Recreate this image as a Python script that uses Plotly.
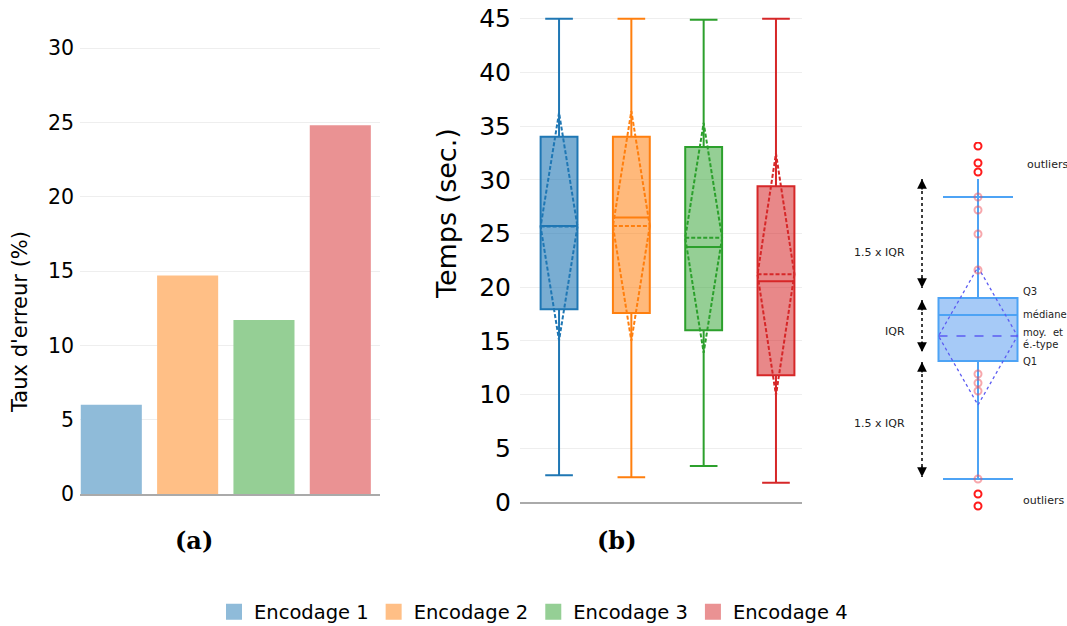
import plotly.graph_objects as go

W, H = 1067, 626

# ---------------- data ----------------
encodings = ["Encodage 1", "Encodage 2", "Encodage 3", "Encodage 4"]
positions = [0, 1, 2, 3]
error_rates = [6.0, 14.7, 11.7, 24.8]

bar_colors = ["#8fbbd9", "#ffbf86", "#95cf95", "#ea9293"]
line_colors = ["#1f77b4", "#ff7f0e", "#2ca02c", "#d62728"]
box_fills = ["rgba(31,119,180,0.6)", "rgba(255,127,14,0.55)",
             "rgba(44,160,44,0.5)", "rgba(214,39,40,0.55)"]

time_q1 = [17.95, 17.6, 16.0, 11.8]
time_median = [25.7, 26.5, 23.75, 20.55]
time_q3 = [34.0, 34.0, 33.05, 29.4]
time_low = [2.5, 2.3, 3.35, 1.8]
time_high = [45.0, 45.0, 44.9, 45.0]
time_mean = [25.65, 25.7, 24.6, 21.2]
time_sd = [10.6, 10.7, 10.7, 11.25]

# explanatory diagram (arbitrary units)
diag_q1 = 15.1
diag_median = 19.7
diag_q3 = 21.4
diag_low = 3.3
diag_high = 31.5
diag_mean = 17.6
diag_sd = 6.9
diag_whisker_top = 33.3
diag_outliers = [36.6, 34.9, 34.0, 1.8, 0.6]
diag_inliers = [31.5, 30.2, 27.8, 24.2, 13.8, 12.9, 12.1, 3.3]
arrow_spans = [(33.3, 22.4), (21.2, 16.0), (15.0, 3.5)]
span_labels = ["1.5 x IQR", "IQR", "1.5 x IQR"]
span_label_y = [25.9, 18.1, 8.9]
right_labels = ["Q3", "médiane", "moy.  et", "é.-type", "Q1"]
right_label_y = [22.1, 19.8, 18.0, 16.8, 15.1]
outlier_labels = ["outliers", "outliers"]
outlier_label_y = [34.7, 1.2]
outlier_label_x = [0.47, 0.43]

FONT = "DejaVu Sans"


def px_x(p):
    return p / W


def px_y(p):
    return 1 - p / H


fig = go.Figure()

# ---------------- (a) bars ----------------
for i, name in enumerate(encodings):
    fig.add_trace(go.Bar(
        x=[positions[i]], y=[error_rates[i]], name=name,
        marker=dict(color=bar_colors[i], line=dict(width=0)),
        width=0.8, xaxis="x", yaxis="y", showlegend=False,
        hoverinfo="y",
    ))
# legend entries (square swatches)
for i, name in enumerate(encodings):
    fig.add_trace(go.Scatter(
        x=[None], y=[None], mode="markers", name=name,
        marker=dict(symbol="square", size=20, color=bar_colors[i]),
        xaxis="x", yaxis="y", showlegend=True,
    ))

# ---------------- (b) boxes ----------------
for i, name in enumerate(encodings):
    fig.add_trace(go.Box(
        x=[positions[i]], q1=[time_q1[i]], median=[time_median[i]],
        q3=[time_q3[i]], lowerfence=[time_low[i]], upperfence=[time_high[i]],
        mean=[time_mean[i]], sd=[time_sd[i]], boxmean="sd",
        name=name, width=0.51, whiskerwidth=0.75,
        fillcolor=box_fills[i], line=dict(color=line_colors[i], width=2),
        xaxis="x2", yaxis="y2", showlegend=False,
    ))

# ---------------- (c) diagram ----------------
diag_blue = "#4da3f5"
diag_dash = "#5c5cf2"
box_w = 0.79
fig.add_trace(go.Box(
    x=[0], q1=[diag_q1], median=[diag_median], q3=[diag_q3],
    lowerfence=[diag_low], upperfence=[diag_high],
    width=box_w, whiskerwidth=0.886, boxpoints=False,
    fillcolor="rgba(77,150,240,0.5)", line=dict(color=diag_blue, width=2),
    xaxis="x3", yaxis="y3", showlegend=False,
))
fig.add_trace(go.Scatter(
    x=[0, 0], y=[diag_high, diag_whisker_top], mode="lines",
    line=dict(color=diag_blue, width=2), xaxis="x3", yaxis="y3",
    showlegend=False, hoverinfo="skip",
))
half = box_w / 2
fig.add_trace(go.Scatter(
    x=[-half, half], y=[diag_mean, diag_mean], mode="lines",
    line=dict(color=diag_dash, width=1.3, dash="dash"),
    xaxis="x3", yaxis="y3", showlegend=False, hoverinfo="skip",
))
fig.add_trace(go.Scatter(
    x=[0, half, 0, -half, 0],
    y=[diag_mean + diag_sd, diag_mean, diag_mean - diag_sd, diag_mean, diag_mean + diag_sd],
    mode="lines", line=dict(color=diag_dash, width=1.3, dash="dot"),
    xaxis="x3", yaxis="y3", showlegend=False, hoverinfo="skip",
))
fig.add_trace(go.Scatter(
    x=[0] * len(diag_inliers), y=diag_inliers, mode="markers",
    marker=dict(symbol="circle-open", size=7, color="rgba(240,80,90,0.5)",
                line=dict(width=2)),
    xaxis="x3", yaxis="y3", showlegend=False, hoverinfo="skip",
))
fig.add_trace(go.Scatter(
    x=[0] * len(diag_outliers), y=diag_outliers, mode="markers",
    marker=dict(symbol="circle-open", size=7, color="#ff1a1a",
                line=dict(width=2)),
    xaxis="x3", yaxis="y3", showlegend=False, hoverinfo="skip",
))
arrow_x = -0.56
for (top, bot) in arrow_spans:
    fig.add_trace(go.Scatter(
        x=[arrow_x, arrow_x], y=[top, bot], mode="lines",
        line=dict(color="black", width=1.5, dash="dot"),
        xaxis="x3", yaxis="y3", showlegend=False, hoverinfo="skip",
    ))

annotations = []
for (top, bot) in arrow_spans:
    for end, start in ((top, top - 1.2), (bot, bot + 1.2)):
        annotations.append(dict(
            x=arrow_x, y=end, ax=arrow_x, ay=start,
            xref="x3", yref="y3", axref="x3", ayref="y3",
            showarrow=True, arrowhead=2, arrowsize=1.3, arrowwidth=1.5,
            arrowcolor="black", text="",
        ))
for lab, yv in zip(span_labels, span_label_y):
    annotations.append(dict(
        x=-0.71, y=yv, xref="x3", yref="y3", text=lab, showarrow=False,
        xanchor="right", yanchor="middle",
        font=dict(family=FONT, size=11, color="#222"),
    ))
for lab, yv in zip(right_labels, right_label_y):
    annotations.append(dict(
        x=0.43, y=yv, xref="x3", yref="y3", text=lab, showarrow=False,
        xanchor="left", yanchor="middle",
        font=dict(family=FONT, size=10, color="#222"),
    ))
for lab, yv, xv in zip(outlier_labels, outlier_label_y, outlier_label_x):
    annotations.append(dict(
        x=xv, y=yv, xref="x3", yref="y3", text=lab, showarrow=False,
        xanchor="left", yanchor="middle",
        font=dict(family=FONT, size=11, color="#222"),
    ))

# panel labels
for lab, xp in (("(a)", 194), ("(b)", 617)):
    annotations.append(dict(
        x=px_x(xp), y=px_y(540), xref="paper", yref="paper",
        xanchor="center", yanchor="middle",
        text="<b>" + lab + "</b>", showarrow=False,
        font=dict(family="DejaVu Serif", size=24, color="black"),
    ))

# axis titles as rotated annotations
annotations.append(dict(
    x=px_x(20), y=px_y(322), xref="paper", yref="paper",
    xanchor="center", yanchor="middle",
    text="Taux d'erreur (%)", textangle=-90, showarrow=False,
    font=dict(family=FONT, size=21, color="black"),
))
annotations.append(dict(
    x=px_x(446), y=px_y(214), xref="paper", yref="paper",
    xanchor="center", yanchor="middle",
    text="Temps (sec.)", textangle=-90, showarrow=False,
    font=dict(family=FONT, size=27, color="black"),
))

fig.update_layout(
    width=W, height=H, autosize=False,
    margin=dict(l=0, r=0, t=0, b=0, autoexpand=False),
    paper_bgcolor="white", plot_bgcolor="white",
    font=dict(family=FONT, color="black"),
    bargap=0.2,
    xaxis=dict(domain=[px_x(80), px_x(380)], range=[-0.41, 3.52], automargin=False,
               showticklabels=False, ticks="", showgrid=False, zeroline=False,
               showline=True, linecolor="#aaaaaa", linewidth=2),
    yaxis=dict(domain=[px_y(494), px_y(25.7)], range=[0, 31.5], automargin=False,
               tickvals=[0, 5, 10, 15, 20, 25, 30], ticks="",
               tickfont=dict(size=20.5), ticklabelstandoff=5,
               showgrid=True, gridcolor="#eeeeee", zeroline=False),
    xaxis2=dict(domain=[px_x(520), px_x(802)], range=[-0.54, 3.36], automargin=False,
                anchor="y2", showticklabels=False, ticks="", showgrid=False,
                zeroline=False, showline=True, linecolor="#aaaaaa", linewidth=2),
    yaxis2=dict(domain=[px_y(502), px_y(8)], range=[0, 46], anchor="x2", automargin=False,
                tickvals=list(range(0, 50, 5)), ticks="",
                tickfont=dict(size=25), ticklabelstandoff=8,
                showgrid=True, gridcolor="#eeeeee", zeroline=False),
    xaxis3=dict(domain=[px_x(840), 1.0], range=[-1.38, 0.89], anchor="y3",
                visible=False, automargin=False),
    yaxis3=dict(domain=[px_y(512), px_y(142)], range=[0, 37], anchor="x3",
                visible=False, automargin=False),
    legend=dict(orientation="h", x=0.5, xanchor="center", y=px_y(612),
                yanchor="middle", font=dict(size=19.5), itemsizing="trace",
                itemwidth=30, traceorder="normal", bgcolor="rgba(0,0,0,0)"),
    annotations=annotations,
    showlegend=True,
)

fig.write_html(
    "out.html",
    config={"displayModeBar": False},
    post_script="document.body.style.margin='0';document.body.style.padding='0';"
                "document.body.style.overflow='hidden';",
)
